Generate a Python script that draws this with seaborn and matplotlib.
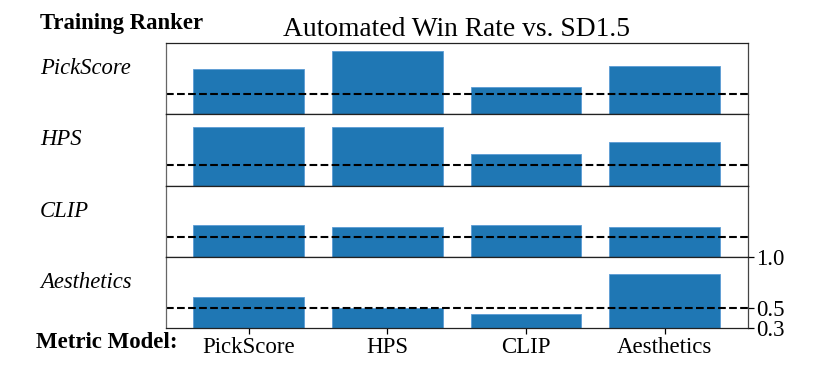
import matplotlib
matplotlib.use("Agg")
import matplotlib.pyplot as plt
import seaborn as sns
import pandas as pd

# ---- data ----
metric_models = ["PickScore", "HPS", "CLIP", "Aesthetics"]
training_rankers = ["PickScore", "HPS", "CLIP", "Aesthetics"]
win_pickscore = [0.75, 0.92, 0.57, 0.78]
win_hps = [0.88, 0.88, 0.61, 0.73]
win_clip = [0.62, 0.595, 0.62, 0.595]
win_aesthetics = [0.61, 0.505, 0.445, 0.83]
baseline = 0.5
ytick_vals = [0.3, 0.5, 1.0]
ytick_labels = ["0.3", "0.5", "1.0"]

series = [win_pickscore, win_hps, win_clip, win_aesthetics]
rows = []
for ranker, vals in zip(training_rankers, series):
    for m, v in zip(metric_models, vals):
        rows.append({"ranker": ranker, "metric": m, "win": v})
df = pd.DataFrame(rows)

sns.set_style("white")
plt.rcParams["font.family"] = ["Liberation Serif", "DejaVu Serif"]
plt.rcParams["text.color"] = "black"
plt.rcParams["xtick.color"] = "black"
plt.rcParams["ytick.color"] = "black"
plt.rcParams["axes.labelcolor"] = "black"

fig, axes = plt.subplots(4, 1, figsize=(8.3, 3.69), dpi=100, sharex=True)
fig.subplots_adjust(left=0.1996, right=0.9008, top=0.883, bottom=0.110, hspace=0)

for i, (ax, ranker) in enumerate(zip(axes, training_rankers)):
    sub = df[df["ranker"] == ranker]
    sns.barplot(data=sub, x="metric", y="win", order=metric_models, ax=ax,
                color="#1f77b4", saturation=1, width=0.8, edgecolor="#5b9bd5",
                linewidth=0.6, errorbar=None)
    ax.axhline(baseline, color="black", linestyle="--", linewidth=1.5)
    ax.set_ylim(0.3, 1.0)
    ax.set_xlim(-0.6, 3.6)
    ax.set_xlabel("")
    ax.set_ylabel("")
    for s in ax.spines.values():
        s.set_visible(True)
        s.set_color("#222222")
        s.set_linewidth(0.9)
    ax.spines["left"].set_color("#666666")
    ax.spines["right"].set_color("#444444")
    ax.yaxis.tick_right()
    if i < 3:
        ax.set_yticks([])
        ax.tick_params(axis="x", bottom=False, labelbottom=False)
    else:
        ax.set_yticks(ytick_vals)
        ax.set_yticklabels(ytick_labels)
        ax.tick_params(axis="y", right=True, left=False, direction="out",
                       length=4, width=0.9, labelsize=16.5, pad=2, colors="black")
        ax.tick_params(axis="x", bottom=True, direction="out", length=4,
                       width=0.9, labelsize=16.5, pad=2, colors="black")
    # row label
    top_px = ax.get_position().y1
    fig.text(40 / 830, top_px - 31 / 369, ranker, fontsize=16.3, fontstyle="italic",
             ha="left", va="baseline", color="black")

fig.text(40 / 830, 1 - 29 / 369, "Training Ranker", fontsize=16.4,
         fontweight="bold", ha="left", va="baseline", color="black")
fig.text(36 / 830, 1 - 348 / 369, "Metric Model:", fontsize=16.5,
         fontweight="bold", ha="left", va="baseline", color="black")
axes[0].set_title("Automated Win Rate vs. SD1.5", fontsize=19.8, pad=5, color="black")

fig.savefig("out.png", dpi=100)
